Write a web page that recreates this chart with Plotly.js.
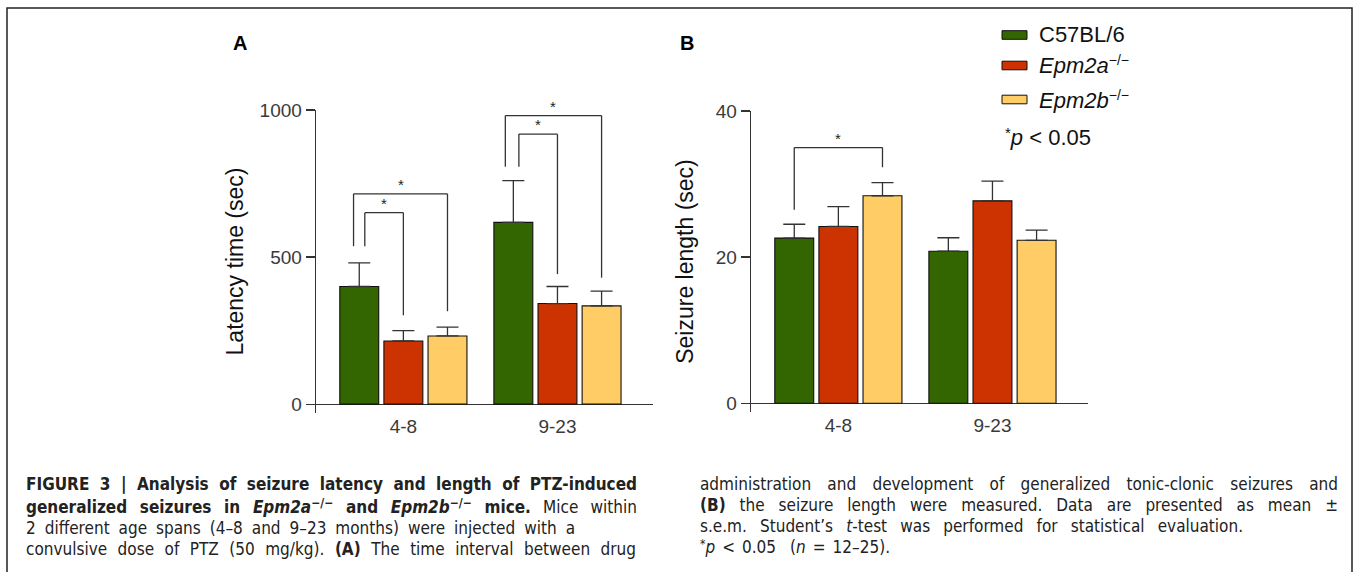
<!DOCTYPE html>
<html>
<head>
<meta charset="utf-8">
<script src="https://cdn.plot.ly/plotly-3.0.1.min.js"></script>
<style>
  html, body { margin: 0; padding: 0; background: #ffffff; }
  #chart { width: 1354px; height: 572px; }
</style>
</head>
<body>
<div id="chart"></div>
<script>
// ---------------- data ----------------
const categories = ['4-8', '9-23'];
const seriesNames = ['C57BL/6', 'Epm2a', 'Epm2b'];

// Panel A: latency time (sec), mean and s.e.m.
const latencyC57 = [400, 618];
const latencyEpm2a = [215, 342];
const latencyEpm2b = [232, 334];
const latencyErrC57 = [80, 142];
const latencyErrEpm2a = [35, 58];
const latencyErrEpm2b = [30, 50];
const latencyTicks = [0, 500, 1000];

// Panel B: seizure length (sec), mean and s.e.m.
const lengthC57 = [22.6, 20.8];
const lengthEpm2a = [24.2, 27.7];
const lengthEpm2b = [28.4, 22.3];
const lengthErrC57 = [1.9, 1.85];
const lengthErrEpm2a = [2.7, 2.7];
const lengthErrEpm2b = [1.8, 1.4];
const lengthTicks = [0, 20, 40];

// significance brackets: [group, fromSeries, toSeries, topValue, leftEndValue, rightEndValue]
const latencyBrackets = [
  [0, 0, 2, 715, 537, 316],
  [0, 0, 1, 651, 537, 302],
  [1, 0, 2, 981, 807, 430],
  [1, 0, 1, 918, 807, 442]
];
const lengthBrackets = [
  [0, 0, 2, 35.0, 26.5, 32.3]
];

// ---------------- styling ----------------
const W = 1354, H = 572;
const px = x => x / W;
const py = y => 1 - y / H;
const colors = ['#336600', '#CC3300', '#FFCC66'];
const axisColor = '#333333';
const bargap = 0.141, bargroupgap = 0.118;
const slot = (1 - bargap) / 3;
const bracketNudge = [[-0.037, 0.036], [-0.052, 0.036]]; // horizontal nudge of bracket left legs (A)

const xIdx = categories.map((c, i) => i);

function barTrace(y, err, s, xa, ya) {
  return {
    type: 'bar', x: xIdx, y: y, xaxis: xa, yaxis: ya,
    name: seriesNames[s], showlegend: false,
    marker: { color: colors[s], line: { color: '#111111', width: 1.1 } },
    error_y: { type: 'data', symmetric: false, array: err, arrayminus: err.map(() => 0),
               color: axisColor, thickness: 1.3, width: 11 },
    hoverinfo: 'skip'
  };
}

const data = [
  barTrace(latencyC57, latencyErrC57, 0, 'x', 'y'),
  barTrace(latencyEpm2a, latencyErrEpm2a, 1, 'x', 'y'),
  barTrace(latencyEpm2b, latencyErrEpm2b, 2, 'x', 'y'),
  barTrace(lengthC57, lengthErrC57, 0, 'x2', 'y2'),
  barTrace(lengthEpm2a, lengthErrEpm2a, 1, 'x2', 'y2'),
  barTrace(lengthEpm2b, lengthErrEpm2b, 2, 'x2', 'y2')
];

const shapes = [];
const annotations = [];

function addBrackets(list, xa, ya, nudges, starShift) {
  list.forEach((b) => {
    const [g, s1, s2, top, yl, yr] = b;
    let nudge = 0;
    if (nudges) nudge = (s2 === 2) ? nudges[g][0] : nudges[g][1];
    const xl = g + (s1 - 1) * slot + nudge;
    const xr = g + (s2 - 1) * slot;
    const ln = { color: axisColor, width: 1.3 };
    shapes.push({ type: 'line', xref: xa, yref: ya, x0: xl, x1: xl, y0: yl, y1: top, line: ln });
    shapes.push({ type: 'line', xref: xa, yref: ya, x0: xl, x1: xr, y0: top, y1: top, line: ln });
    shapes.push({ type: 'line', xref: xa, yref: ya, x0: xr, x1: xr, y0: top, y1: yr, line: ln });
    annotations.push({ xref: xa, yref: ya, x: (xl + xr) / 2, y: top, text: '*', showarrow: false,
      xanchor: 'center', yanchor: 'bottom', yshift: starShift,
      font: { family: 'Liberation Sans, Arial, sans-serif', size: 15, color: '#222' } });
  });
}
addBrackets(latencyBrackets, 'x', 'y', bracketNudge, -1);
addBrackets(lengthBrackets, 'x2', 'y2', null, -1);

// outer frame
shapes.push({ type: 'path', xref: 'paper', yref: 'paper',
  path: `M${px(7)},${py(572)} L${px(7)},${py(8)} L${px(1352)},${py(8)} L${px(1352)},${py(572)}`,
  line: { color: '#222222', width: 1.5 } });

// raised small text without <sup> (explicit pixel size)
const raise = (t, size, shift) => `<span style="font-size:${size}px;baseline-shift:${shift}px">${t}</span>`;

// panel letters
const letterFont = { family: 'Liberation Sans, Arial, sans-serif', size: 20, color: '#000', weight: 'bold' };
annotations.push({ xref: 'paper', yref: 'paper', x: px(240.5), y: py(43), text: 'A', showarrow: false, xanchor: 'center', yanchor: 'middle', font: letterFont });
annotations.push({ xref: 'paper', yref: 'paper', x: px(687), y: py(43), text: 'B', showarrow: false, xanchor: 'center', yanchor: 'middle', font: letterFont });

// manual legend
const legendLabels = ['C57BL/6', '<i>Epm2a</i>' + raise('−/−', 14, 8), '<i>Epm2b</i>' + raise('−/−', 14, 8)];
const legendY = [35, 65.5, 99.5];
legendLabels.forEach((lab, i) => {
  shapes.push({ type: 'rect', xref: 'paper', yref: 'paper', x0: px(1002), x1: px(1027),
    y0: py(legendY[i] + 4.3), y1: py(legendY[i] - 4.3), fillcolor: colors[i], line: { color: '#111', width: 1 } });
  annotations.push({ xref: 'paper', yref: 'paper', x: px(1037), y: py(legendY[i]), text: lab, showarrow: false,
    xanchor: 'left', yanchor: 'middle', font: { family: 'Liberation Sans, Arial, sans-serif', size: 22, color: '#111' } });
});
annotations.push({ xref: 'paper', yref: 'paper', x: px(1003), y: py(137), text: raise('*', 15, 7) + '<i>p</i> &lt; 0.05', showarrow: false,
  xanchor: 'left', yanchor: 'middle', font: { family: 'Liberation Sans, Arial, sans-serif', size: 22, color: '#111' } });

// caption
const captionLeft = [
  '<b>FIGURE 3 | Analysis of seizure latency and length of PTZ-induced</b>',
  '<b>generalized seizures in <i>Epm2a</i>' + raise('−/−', 12, 6) + ' and <i>Epm2b</i>' + raise('−/−', 12, 6) + ' mice.</b> Mice within',
  '2 different age spans (4–8 and 9–23 months) were injected with a',
  'convulsive dose of PTZ (50 mg/kg). <b>(A)</b> The time interval between drug'
];
const captionRight = [
  'administration and development of generalized tonic-clonic seizures and',
  '<b>(B)</b> the seizure length were measured. Data are presented as mean ±',
  's.e.m. Student’s <i>t</i>-test was performed for statistical evaluation.',
  raise('*', 12, 5) + '<i>p</i> &lt; 0.05  (<i>n</i> = 12–25).'
];
const capFont = { family: 'Liberation Sans Narrow, Arial Narrow, DejaVu Sans Condensed, Liberation Sans, sans-serif', size: 17, color: '#222' };
const capLeftY = [484.5, 506.5, 527.5, 548.5];
const capRightY = [483.5, 505, 526, 547];
const capLeftWidth = [611, 611, 549, 610];
const capRightWidth = [638, 638, 543, 190];
const justify = [];
captionLeft.forEach((t, i) => {
  justify.push([annotations.length, capLeftWidth[i]]);
  annotations.push({ xref: 'paper', yref: 'paper', x: px(24), y: py(capLeftY[i]), text: t, showarrow: false,
    xanchor: 'left', yanchor: 'middle', font: capFont });
});
captionRight.forEach((t, i) => {
  justify.push([annotations.length, capRightWidth[i]]);
  annotations.push({ xref: 'paper', yref: 'paper', x: px(697.5), y: py(capRightY[i]), text: t, showarrow: false,
    xanchor: 'left', yanchor: 'middle', font: capFont });
});

const tickFont = { family: 'Liberation Sans, Arial, sans-serif', size: 19, color: '#3a3a3a' };
const titleFont = { family: 'Liberation Sans, Arial, sans-serif', size: 23, color: '#111' };

function xAxis(dom, ya) {
  return { domain: dom, anchor: ya, range: [-0.567, 1.62], tickvals: xIdx, ticktext: categories,
    showline: false, ticks: '', showgrid: false, zeroline: false, tickfont: tickFont, fixedrange: true };
}
function yAxis(dom, xa, rng, ticks, title, standoff) {
  return { domain: dom, anchor: xa, range: rng, tickvals: ticks, ticks: 'outside', ticklen: 9,
    tickwidth: 1.3, tickcolor: axisColor, showline: true, linecolor: axisColor, linewidth: 1.3,
    zeroline: true, zerolinecolor: axisColor, zerolinewidth: 1.3, showgrid: false,
    tickfont: tickFont, fixedrange: true,
    title: { text: title, font: titleFont, standoff: standoff } };
}

const layout = {
  width: W, height: H,
  margin: { l: 0, r: 0, t: 0, b: 0 },
  paper_bgcolor: '#ffffff', plot_bgcolor: 'rgba(0,0,0,0)',
  barmode: 'group', bargap: bargap, bargroupgap: bargroupgap,
  showlegend: false,
  xaxis: xAxis([px(316), px(653)], 'y'),
  yaxis: yAxis([py(413), py(110)], 'x', [-30, 1000], latencyTicks, 'Latency time (sec)', 9),
  xaxis2: xAxis([px(751), px(1088)], 'y2'),
  yaxis2: yAxis([py(412), py(111)], 'x2', [-1.2, 40], lengthTicks, 'Seizure length (sec)', 15),
  shapes: shapes,
  annotations: annotations
};

Plotly.newPlot('chart', data, layout, { displayModeBar: false, staticPlot: true }).then(gd => {
  // justify caption lines by widening the word spacing
  justify.forEach(([idx, target]) => {
    const g = gd.querySelector(`.annotation[data-index="${idx}"]`);
    if (!g) return;
    const t = g.querySelector('text.annotation-text');
    if (!t) return;
    const before = t.getBBox();
    const n = (t.textContent.match(/ /g) || []).length;
    if (!n) return;
    const extra = (target - before.width) / n;
    if (extra <= 0) return;
    t.style.wordSpacing = extra + 'px';
    const after = t.getBBox();
    const x0 = parseFloat(t.getAttribute('x') || '0');
    t.setAttribute('x', x0 + (before.x - after.x));
  });
});
</script>
</body>
</html>
